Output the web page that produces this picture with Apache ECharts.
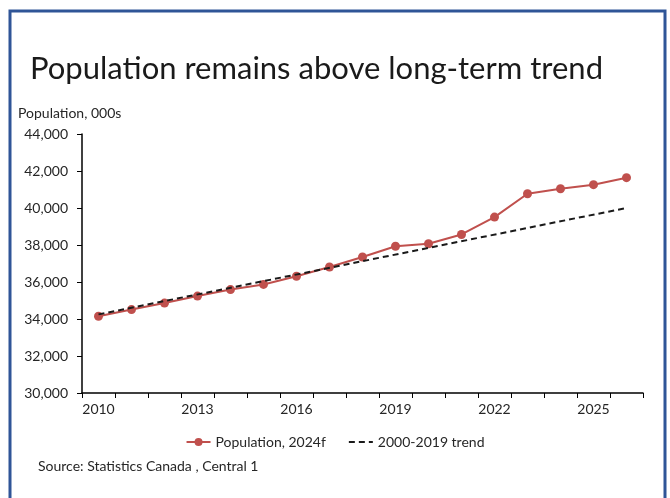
<!DOCTYPE html>
<html>
<head>
<meta charset="utf-8">
<script src="https://cdn.jsdelivr.net/npm/echarts@6/dist/echarts.min.js"></script>
<style>
  html, body { margin: 0; padding: 0; background: #fff; }
  #chart { width: 670px; height: 498px; }
</style>
</head>
<body>
<div id="chart"></div>
<script>
// years on the category axis
const years = ['2010', '2011', '2012', '2013', '2014', '2015', '2016', '2017', '2018',
  '2019', '2020', '2021', '2022', '2023', '2024', '2025', '2026'];

// population, thousands
const population = [34150, 34510, 34860, 35240, 35590, 35870, 36310, 36810, 37350,
  37930, 38070, 38570, 39510, 40770, 41040, 41260, 41640];

// 2000-2019 trend: straight line, only the two ends are given
const trend = [34250, null, null, null, null, null, null, null, null,
  null, null, null, null, null, null, null, 40000];

const yTicks = { min: 30000, max: 44000, interval: 2000 };

const FONT = 'Lato';
const chart = echarts.init(document.getElementById('chart'), null, { renderer: 'canvas' });

chart.setOption({
  animation: false,
  textStyle: { fontFamily: FONT },
  title: {
    text: 'Population remains above long-term trend',
    left: 25,
    top: 48,
    textStyle: { fontFamily: FONT, fontSize: 31, fontWeight: 'normal', color: '#1a1a1a' }
  },
  graphic: [
    {
      type: 'rect',
      shape: { x: 10, y: 11, width: 655, height: 520 },
      style: { fill: 'none', stroke: '#2f5597', lineWidth: 3 },
      silent: true
    },
    {
      type: 'text',
      left: 18,
      top: 106,
      style: { text: 'Population, 000s', font: '14px ' + FONT, fill: '#262626' }
    },
    {
      type: 'text',
      left: 38,
      top: 459,
      style: { text: 'Source: Statistics Canada , Central 1', font: '14px ' + FONT, fill: '#262626' }
    }
  ],
  legend: {
    top: 430,
    left: 'center',
    itemWidth: 24,
    itemHeight: 10,
    itemGap: 22,
    textStyle: { fontFamily: FONT, fontSize: 14, color: '#262626' },
    data: [
      'Population, 2024f',
      { name: '2000-2019 trend', itemStyle: { opacity: 0 } }
    ]
  },
  grid: { left: 82, right: 27, top: 134, bottom: 105, containLabel: false },
  xAxis: {
    type: 'category',
    data: years,
    boundaryGap: true,
    axisLine: { lineStyle: { color: '#000', width: 1.5 } },
    axisTick: { show: true, length: 5, interval: 0, lineStyle: { color: '#000' } },
    axisLabel: {
      interval: 2,
      margin: 9,
      fontFamily: FONT,
      fontSize: 14,
      color: '#262626'
    },
    splitLine: { show: false }
  },
  yAxis: {
    type: 'value',
    min: yTicks.min,
    max: yTicks.max,
    interval: yTicks.interval,
    axisLine: { show: true, lineStyle: { color: '#000', width: 1.5 } },
    axisTick: { show: true, length: 5, lineStyle: { color: '#000' } },
    axisLabel: {
      margin: 14,
      fontFamily: FONT,
      fontSize: 14,
      color: '#262626',
      formatter: v => v.toLocaleString('en-US')
    },
    splitLine: { show: false }
  },
  series: [
    {
      name: 'Population, 2024f',
      type: 'line',
      data: population,
      symbol: 'circle',
      symbolSize: 9,
      itemStyle: { color: '#c0504d' },
      lineStyle: { color: '#c0504d', width: 2 },
      z: 3
    },
    {
      name: '2000-2019 trend',
      type: 'line',
      data: trend,
      connectNulls: true,
      symbol: 'none',
      itemStyle: { color: '#1a1a1a' },
      lineStyle: { color: '#1a1a1a', width: 2, type: [6, 4] },
      z: 4
    }
  ]
});
</script>
</body>
</html>
